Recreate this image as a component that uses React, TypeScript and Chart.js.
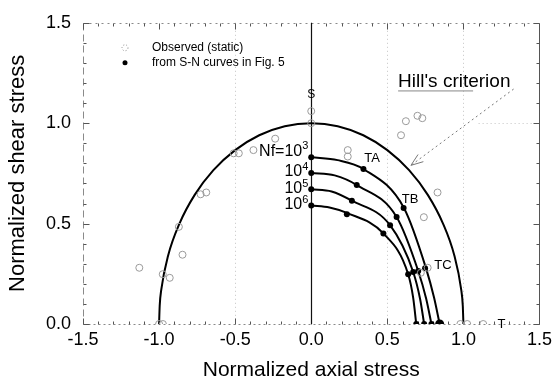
import React, { useEffect, useRef } from "react";
import { Chart, registerables } from "chart.js";
Chart.register(...registerables);

// ---- data ----
const X_MIN = -1.5, X_MAX = 1.5, Y_MIN = 0, Y_MAX = 1.5;
const TICK_STEP = 0.5;

// Hill's criterion curve (read points)
const hillX = [-1, -0.996, -0.985, -0.94, -0.866, -0.766, -0.643, -0.5, -0.342, -0.174, 0, 0.174, 0.342, 0.5, 0.643, 0.766, 0.866, 0.94, 0.985, 0.996, 1];
const hillY = [0, 0.09, 0.174, 0.342, 0.5, 0.643, 0.766, 0.866, 0.94, 0.985, 1, 0.985, 0.94, 0.866, 0.766, 0.643, 0.5, 0.342, 0.174, 0.09, 0];

// Fatigue curves Nf = 1e3 .. 1e6
const nf3X = [0, 0.173, 0.343, 0.609, 0.755, 0.807, 0.844];
const nf3Y = [0.831, 0.816, 0.772, 0.578, 0.276, 0.132, 0];
const nf4X = [0, 0.154, 0.299, 0.561, 0.703, 0.755, 0.79];
const nf4Y = [0.752, 0.74, 0.692, 0.533, 0.264, 0.127, 0];
const nf5X = [0, 0.134, 0.267, 0.518, 0.67, 0.716, 0.742];
const nf5Y = [0.671, 0.66, 0.614, 0.492, 0.259, 0.122, 0];
const nf6X = [0, 0.12, 0.234, 0.474, 0.637, 0.67, 0.69];
const nf6Y = [0.59, 0.58, 0.553, 0.451, 0.248, 0.13, 0];

// From S-N curves (filled dots)
const snX = [0, 0, 0, 0, 0.343, 0.299, 0.267, 0.234, 0.607, 0.561, 0.518, 0.474, 0.748, 0.703, 0.67, 0.637, 0.844, 0.79, 0.742, 0.69];
const snY = [0.831, 0.752, 0.671, 0.59, 0.772, 0.692, 0.614, 0.546, 0.578, 0.533, 0.492, 0.451, 0.278, 0.264, 0.259, 0.248, 0, 0, 0, 0];
const snSize = [3, 3, 3, 3, 3, 3, 3, 3, 3, 3, 3, 3, 3, 3, 3, 3, 4.5, 3, 3, 3];

// Observed (static) open circles
const obsX = [-1.0, -0.975, -1.13, -0.976, -0.93, -0.846, -0.87, -0.727, -0.69, -0.51, -0.476, -0.38, -0.237, 0, 0, 0.24, 0.24, 0.59, 0.622, 0.698, 0.73, 0.83, 0.74, 0.765, 0.72, 0.98, 1.025, 1.13];
const obsY = [0, 0, 0.28, 0.248, 0.23, 0.345, 0.484, 0.646, 0.655, 0.85, 0.85, 0.866, 0.923, 1.06, 1.0, 0.866, 0.834, 0.94, 1.01, 1.037, 1.025, 0.655, 0.532, 0.28, 0.255, 0, 0, 0];

// labels
const nfBase = ["Nf=10", "10", "10", "10"];
const nfExp = ["3", "4", "5", "6"];
const nfLabelY = [0.86, 0.757, 0.674, 0.594];
const pointLabels = ["S", "TA", "TB", "TC", "T"];
const pointLabelX = [0, 0.40, 0.65, 0.865, 1.25];
const pointLabelY = [1.14, 0.826, 0.62, 0.29, 0.0];
const legendLabels = ["Observed (static)", "from S-N curves in Fig. 5"];
const hillLabel = "Hill's criterion";

const FONT = "'Liberation Sans', Arial, Helvetica, sans-serif";

const pts = (xs: number[], ys: number[]) => xs.map((x, i) => ({ x, y: ys[i] }));

const decor = {
  id: "decor",
  beforeDatasetsDraw(chart: any) {
    const { ctx, chartArea: a, scales } = chart;
    const x = scales.x, y = scales.y;
    const line = (x1: number, y1: number, x2: number, y2: number) => {
      ctx.beginPath(); ctx.moveTo(x1, y1); ctx.lineTo(x2, y2); ctx.stroke();
    };
    ctx.save();
    // faint dotted grid (scan-like)
    ctx.strokeStyle = "#c4c4c4"; ctx.lineWidth = 1; ctx.setLineDash([1, 3]);
    for (const gx of [-0.5, 0.5, 1.0]) {
      const px = Math.round(x.getPixelForValue(gx)) + 0.5;
      line(px, a.top, px, a.bottom);
    }
    const py1 = Math.round(y.getPixelForValue(1.0)) + 0.5;
    line(x.getPixelForValue(1.1), py1, a.right, py1);
    // frame
    const T = Math.round(a.top) + 0.5, B = Math.round(a.bottom) + 0.5;
    const L = Math.round(a.left) + 0.5, R = Math.round(a.right) + 0.5;
    ctx.strokeStyle = "#8a8a8a"; ctx.setLineDash([2, 4]); line(L, T, R, T);
    ctx.setLineDash([2, 3]); line(L, B, R, B);
    ctx.setLineDash([7, 4]); line(L, T, L, B);
    ctx.strokeStyle = "#555"; ctx.setLineDash([]); line(R, T, R, B);
    // minor ticks
    ctx.strokeStyle = "#555"; ctx.setLineDash([]);
    for (let i = 0; i <= 30; i++) {
      const v = X_MIN + i * 0.1;
      const px = Math.round(x.getPixelForValue(v)) + 0.5;
      const len = i % 5 === 0 ? 6 : 3;
      line(px, B, px, B - len);
      line(px, T, px, T + len);
    }
    for (let i = 0; i <= 15; i++) {
      const v = Y_MIN + i * 0.1;
      const py = Math.round(y.getPixelForValue(v)) + 0.5;
      const len = i % 5 === 0 ? 6 : 3;
      line(L, py, L + len, py);
      line(R, py, R - len, py);
    }
    // zero shear axis
    ctx.strokeStyle = "#111"; ctx.lineWidth = 1.2;
    const x0 = Math.round(x.getPixelForValue(0)) + 0.5;
    line(x0, a.top, x0, a.bottom);
    ctx.restore();
  },
  afterDatasetsDraw(chart: any) {
    const { ctx, chartArea: a, scales } = chart;
    const x = scales.x, y = scales.y;
    ctx.save();
    ctx.fillStyle = "#000";
    ctx.textBaseline = "middle";
    // Nf labels
    const x0 = x.getPixelForValue(0);
    nfBase.forEach((t, i) => {
      const py = y.getPixelForValue(nfLabelY[i]);
      ctx.font = `16px ${FONT}`;
      ctx.textAlign = "right";
      ctx.fillText(t, x0 - 9, py);
      ctx.font = `11px ${FONT}`;
      ctx.textAlign = "left";
      ctx.fillText(nfExp[i], x0 - 9, py - 5);
    });
    // point labels
    ctx.textAlign = "center";
    pointLabels.forEach((t, i) => {
      ctx.font = `${i === 0 ? 12 : 13}px ${FONT}`;
      ctx.fillText(t, x.getPixelForValue(pointLabelX[i]), y.getPixelForValue(pointLabelY[i]));
    });
    // Hill's criterion label
    ctx.font = `19px ${FONT}`;
    const hx = x.getPixelForValue(0.94), hy = y.getPixelForValue(1.208);
    ctx.fillText(hillLabel, hx, hy);
    const w = ctx.measureText(hillLabel).width;
    ctx.strokeStyle = "#888"; ctx.lineWidth = 1;
    ctx.beginPath(); ctx.moveTo(hx - w / 2, hy + 9.5); ctx.lineTo(hx - w / 2 + 75, hy + 9.5); ctx.stroke();
    // arrow
    const ax1 = x.getPixelForValue(1.33), ay1 = y.getPixelForValue(1.17);
    const ax2 = x.getPixelForValue(0.655), ay2 = y.getPixelForValue(0.79);
    ctx.strokeStyle = "#777"; ctx.setLineDash([2, 3]);
    ctx.beginPath(); ctx.moveTo(ax1, ay1); ctx.lineTo(ax2, ay2); ctx.stroke();
    ctx.setLineDash([]);
    const ang = Math.atan2(ay2 - ay1, ax2 - ax1);
    const hl = 13;
    for (const s of [-0.35, 0.35]) {
      ctx.beginPath(); ctx.moveTo(ax2, ay2);
      ctx.lineTo(ax2 - hl * Math.cos(ang + s), ay2 - hl * Math.sin(ang + s)); ctx.stroke();
    }
    // legend
    const lx = a.left + 42, tx = a.left + 69;
    const ly1 = a.top + 25, ly2 = a.top + 40;
    ctx.strokeStyle = "#8a8a8a"; ctx.setLineDash([1, 2]);
    ctx.beginPath(); ctx.arc(lx, ly1, 3, 0, Math.PI * 2); ctx.stroke();
    ctx.setLineDash([]);
    ctx.fillStyle = "#000";
    ctx.beginPath(); ctx.arc(lx, ly2, 2.5, 0, Math.PI * 2); ctx.fill();
    ctx.font = `12px ${FONT}`;
    ctx.textAlign = "left";
    ctx.fillText(legendLabels[0], tx, ly1);
    ctx.fillText(legendLabels[1], tx, ly2);
    ctx.restore();
  },
};

export default function App() {
  const ref = useRef<HTMLCanvasElement | null>(null);
  useEffect(() => {
    if (!ref.current) return;
    const curve = (xs: number[], ys: number[], w: number) => ({
      data: pts(xs, ys),
      showLine: true,
      borderColor: "#000",
      borderWidth: w,
      pointRadius: 0,
      cubicInterpolationMode: "monotone",
      fill: false,
    });
    const chart = new Chart(ref.current, {
      type: "scatter",
      data: {
        datasets: [
          {
            data: pts(obsX, obsY),
            pointStyle: "circle",
            pointRadius: 3.5,
            pointBorderWidth: 1,
            pointBorderColor: "#9a9a9a",
            pointBackgroundColor: "rgba(0,0,0,0)",
            showLine: false,
          } as any,
          curve(hillX, hillY, 2),
          curve(nf3X, nf3Y, 2),
          curve(nf4X, nf4Y, 2),
          curve(nf5X, nf5Y, 2),
          curve(nf6X, nf6Y, 2),
          {
            data: pts(snX, snY),
            pointRadius: snSize,
            pointBackgroundColor: "#000",
            pointBorderColor: "#000",
            pointBorderWidth: 0,
            showLine: false,
          } as any,
        ],
      },
      options: {
        animation: false,
        responsive: false,
        devicePixelRatio: 1,
        layout: { padding: { top: 17, right: 15, left: 0, bottom: 0 } },
        plugins: { legend: { display: false }, tooltip: { enabled: false } },
        scales: {
          x: {
            type: "linear",
            min: X_MIN,
            max: X_MAX,
            afterFit: (s: any) => { s.height = 57; },
            ticks: {
              stepSize: TICK_STEP,
              padding: 5,
              color: "#000",
              font: { size: 18, family: FONT },
              callback: (v: any) => Number(v).toFixed(1),
            },
            grid: { display: false, drawTicks: false },
            border: { display: false },
            title: {
              display: true,
              text: "Normalized axial stress",
              color: "#000",
              font: { size: 21, family: FONT, lineHeight: 1 },
              padding: { top: 0, bottom: 0 },
            },
          },
          y: {
            type: "linear",
            min: Y_MIN,
            max: Y_MAX,
            afterFit: (s: any) => { s.width = 83; },
            ticks: {
              stepSize: TICK_STEP,
              padding: 12,
              color: "#000",
              font: { size: 18, family: FONT },
              callback: (v: any) => Number(v).toFixed(1),
            },
            grid: { display: false, drawTicks: false },
            border: { display: false },
            title: {
              display: true,
              text: "Normalized shear stress",
              color: "#000",
              font: { size: 22, family: FONT, lineHeight: 1 },
              padding: { top: 7, bottom: 0 },
            },
          },
        },
      },
      plugins: [decor],
    } as any);
    return () => chart.destroy();
  }, []);
  return (
    <div style={{ position: "absolute", left: 0, top: 0, width: 557, height: 381, background: "#fff" }}>
      <canvas ref={ref} width={557} height={381} style={{ display: "block" }} />
    </div>
  );
}
